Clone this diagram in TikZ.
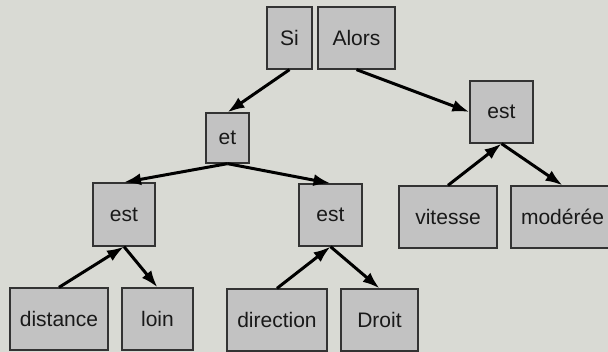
\documentclass[tikz,border=0pt]{standalone}
\usepackage{fontspec}
\setmainfont{Liberation Sans}
\usetikzlibrary{arrows.meta}
\definecolor{fond}{HTML}{D9DAD4}
\definecolor{boite}{HTML}{C2C2C2}
\definecolor{bord}{HTML}{333333}
\tikzset{
 mot/.style={draw=bord, fill=boite, line width=1.3pt, inner sep=0pt,
  minimum height=62pt, font=\fontsize{21}{25}\selectfont, text=black!90},
 lien/.style={line width=3pt, -{Latex[length=17pt,width=12pt]}},
}
\begin{document}
\begin{tikzpicture}[x=1pt,y=-1pt]
   \fill[fond] (0,0) rectangle (608,352);
   \useasboundingbox (0,0) rectangle (608,352);
   \clip (0,0) rectangle (608,352);
   \node[mot, minimum width=45pt] (si) at (289.5,38) {Si};
   \node[mot, minimum width=77pt] (alors) at (356.5,38) {Alors};
   \node[mot, minimum width=43pt, minimum height=50pt] (et) at (227.5,138) {et};
   \node[mot, minimum width=62pt, minimum height=63pt] (estA) at (124,214.5) {est};
   \node[mot, minimum width=63pt] (estB) at (330.5,215) {est};
   \node[mot, minimum width=63pt] (estC) at (501.5,112) {est};
   \node[mot, minimum width=98pt] (dist) at (59,319) {distance};
   \node[mot, minimum width=71pt] (loin) at (157.5,319) {loin};
   \node[mot, minimum width=100pt] (dir) at (277,320) {direction};
   \node[mot, minimum width=77pt] (droit) at (379.5,320) {Droit};
   \node[mot, minimum width=98pt] (vit) at (448,217) {vitesse};
   \node[mot, minimum width=103pt] (mod) at (562.5,217) {modérée};
   \path[lien] (si.south) edge (et.north);
   \path[lien] (alors.south) edge (estC.west);
   \path[lien] (et.south) edge (estA.north);
   \path[lien] (et.south) edge (estB.north);
   \path[lien] (dist.north) edge (estA.south);
   \path[lien] (estA.south) edge (loin.north);
   \path[lien] (dir.north) edge (estB.south);
   \path[lien] (estB.south) edge (droit.north);
   \path[lien] (vit.north) edge (estC.south);
   \path[lien] (estC.south) edge (mod.north);
\end{tikzpicture}
\end{document}
